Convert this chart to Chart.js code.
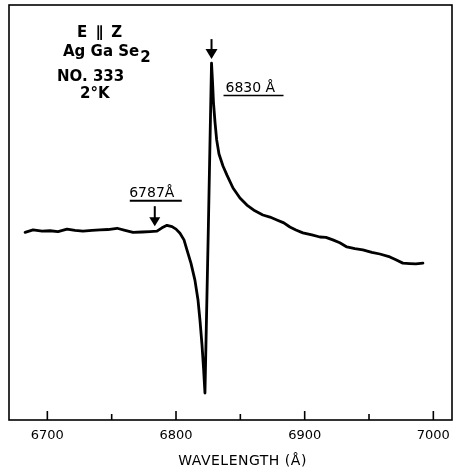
<!DOCTYPE html>
<html><head><meta charset="utf-8">
<script src="https://cdn.jsdelivr.net/npm/chart.js@4/dist/chart.umd.min.js"></script>
<style>html,body{margin:0;padding:0;background:#fff;}#wrap{width:455px;height:468px;}</style>
</head><body><div id="wrap"><canvas id="c" width="455" height="468"></canvas></div>
<script>
// Wavelength in Å, intensity in arbitrary units (0 = bottom of frame, 100 = top)
const wavelength = [6682.7,6688.9,6695.9,6702.1,6708.3,6715.3,6721.5,6727.7,6734.7,6740.9,
  6747.1,6754.2,6760.4,6766.6,6773.6,6779.8,6785.2,6789.1,6793.0,6796.9,
  6800.0,6803.1,6806.2,6808.5,6811.6,6814.7,6817.1,6818.6,6820.2,6821.4,
  6822.5,6825.1,6827.6,6828.4,6829.1,6830.3,6831.6,6833.4,6836.5,6839.6,
  6844.3,6849.7,6855.1,6861.3,6867.5,6873.0,6878.4,6883.8,6888.5,6893.2,
  6898.6,6905.6,6911.8,6916.5,6921.9,6927.3,6932.8,6939.0,6945.2,6952.2,
  6958.4,6966.2,6970.9,6976.3,6981.7,6986.4,6991.9];
const intensity = [45.2,45.8,45.5,45.6,45.4,46.0,45.7,45.5,45.7,45.8,
  45.9,46.2,45.7,45.2,45.3,45.4,45.5,46.3,46.9,46.6,
  46.0,45.0,43.4,41.0,37.8,33.7,28.9,24.1,18.1,12.5,
  6.5,45.8,86.0,81.4,76.6,71.8,67.5,64.1,61.2,59.0,
  55.9,53.5,51.8,50.4,49.4,48.9,48.2,47.5,46.5,45.8,
  45.1,44.6,44.1,44.0,43.4,42.7,41.7,41.3,41.0,40.4,
  40.0,39.3,38.6,37.8,37.7,37.6,37.8];
const xTicks = [6700,6750,6800,6850,6900,6950,7000];
const xTickLabels = ['6700','','6800','','6900','','7000'];
const xRange = [6670.2, 7014.5];
const yRange = [0, 100];
const axisTitle = 'WAVELENGTH (Å)';
const sampleLines = ['E ∥ Z', 'Ag Ga Se', '2', 'NO. 333', '2°K'];
const markerWavelengths = [6827.6, 6783.5];
const markerLabels = ['6830 Å', '6787Å'];

const FONT = '"DejaVu Sans", sans-serif';

function arrow(ctx, cx, tipY, shaft, headLen, headW) {
  ctx.beginPath();
  ctx.lineWidth = 2;
  ctx.moveTo(cx, tipY - headLen - shaft);
  ctx.lineTo(cx, tipY - headLen + 1);
  ctx.stroke();
  ctx.beginPath();
  ctx.moveTo(cx - headW / 2, tipY - headLen);
  ctx.lineTo(cx + headW / 2, tipY - headLen);
  ctx.lineTo(cx, tipY);
  ctx.closePath();
  ctx.fill();
}

const deco = {
  id: 'deco',
  afterDatasetsDraw(chart) {
    const {ctx, chartArea: a, scales: {x, y}} = chart;
    ctx.save();
    ctx.strokeStyle = '#000';
    ctx.fillStyle = '#000';
    ctx.lineWidth = 1.6;
    ctx.strokeRect(a.left, a.top, a.right - a.left, a.bottom - a.top);
    // inward ticks
    xTicks.forEach((v, i) => {
      const px = x.getPixelForValue(v);
      const len = xTickLabels[i] ? 9 : 6;
      ctx.beginPath();
      ctx.lineWidth = 1.6;
      ctx.moveTo(px, a.bottom);
      ctx.lineTo(px, a.bottom - len);
      ctx.stroke();
    });
    // axis title
    ctx.font = '14px ' + FONT;
    ctx.textAlign = 'center';
    ctx.textBaseline = 'alphabetic';
    if ('letterSpacing' in ctx) ctx.letterSpacing = '0.5px';
    ctx.fillText(axisTitle, (a.left + a.right) / 2 + 12, 465);
    if ('letterSpacing' in ctx) ctx.letterSpacing = '0px';

    // sample description
    ctx.font = 'bold 15px ' + FONT;
    ctx.textAlign = 'left';
    if ('letterSpacing' in ctx) ctx.letterSpacing = '1.5px';
    ctx.fillText(sampleLines[0], 77, 37);
    if ('letterSpacing' in ctx) ctx.letterSpacing = '0px';
    ctx.fillText(sampleLines[1], 63, 56);
    const w = ctx.measureText(sampleLines[1]).width;
    ctx.fillText(sampleLines[2], 63 + w + 1, 62);
    ctx.fillText(sampleLines[3], 57, 81);
    ctx.fillText(sampleLines[4], 80, 98);

    // peak marker
    const maxVal = Math.max(...intensity);
    const pk = x.getPixelForValue(markerWavelengths[0]);
    const pkY = y.getPixelForValue(maxVal);
    arrow(ctx, pk, pkY - 4, 10, 10, 12);
    ctx.font = '14px ' + FONT;
    ctx.fillText(markerLabels[0], pk + 14, pkY + 29);
    ctx.lineWidth = 1.5;
    ctx.beginPath();
    ctx.moveTo(pk + 12, pkY + 32.5);
    ctx.lineTo(pk + 72, pkY + 32.5);
    ctx.stroke();

    // shoulder marker
    const sh = x.getPixelForValue(markerWavelengths[1]);
    const shY = y.getPixelForValue(45.5);
    arrow(ctx, sh, shY - 5, 11, 9, 11);
    ctx.textAlign = 'center';
    ctx.fillText(markerLabels[1], sh - 3, shY - 34);
    ctx.beginPath();
    ctx.moveTo(sh - 25, shY - 30.5);
    ctx.lineTo(sh + 27, shY - 30.5);
    ctx.stroke();
    ctx.restore();
  }
};

new Chart(document.getElementById('c'), {
  type: 'line',
  data: {
    datasets: [{
      data: wavelength.map((w, i) => ({x: w, y: intensity[i]})),
      borderColor: '#000',
      borderWidth: 2.8,
      pointRadius: 0,
      tension: 0,
      fill: false,
      borderJoinStyle: 'round',
      borderCapStyle: 'round'
    }]
  },
  options: {
    responsive: false,
    animation: false,
    devicePixelRatio: 1,
    layout: {padding: {left: 9, right: 3, top: 5, bottom: 0}},
    plugins: {legend: {display: false}, tooltip: {enabled: false}},
    scales: {
      x: {
        type: 'linear', min: xRange[0], max: xRange[1],
        afterBuildTicks: s => { s.ticks = xTicks.map(v => ({value: v})); },
        afterFit: s => { s.height = 48; s.paddingLeft = 0; s.paddingRight = 0; },
        grid: {display: false, drawTicks: false},
        border: {display: false},
        ticks: {
          autoSkip: false, maxRotation: 0, padding: 8, color: '#000',
          font: {family: 'DejaVu Sans', size: 13},
          callback: (v) => { const i = xTicks.indexOf(v); return i >= 0 ? xTickLabels[i] : ''; }
        },
        title: {display: false}
      },
      y: {type: 'linear', min: yRange[0], max: yRange[1], display: false}
    }
  },
  plugins: [deco]
});
</script></body></html>
